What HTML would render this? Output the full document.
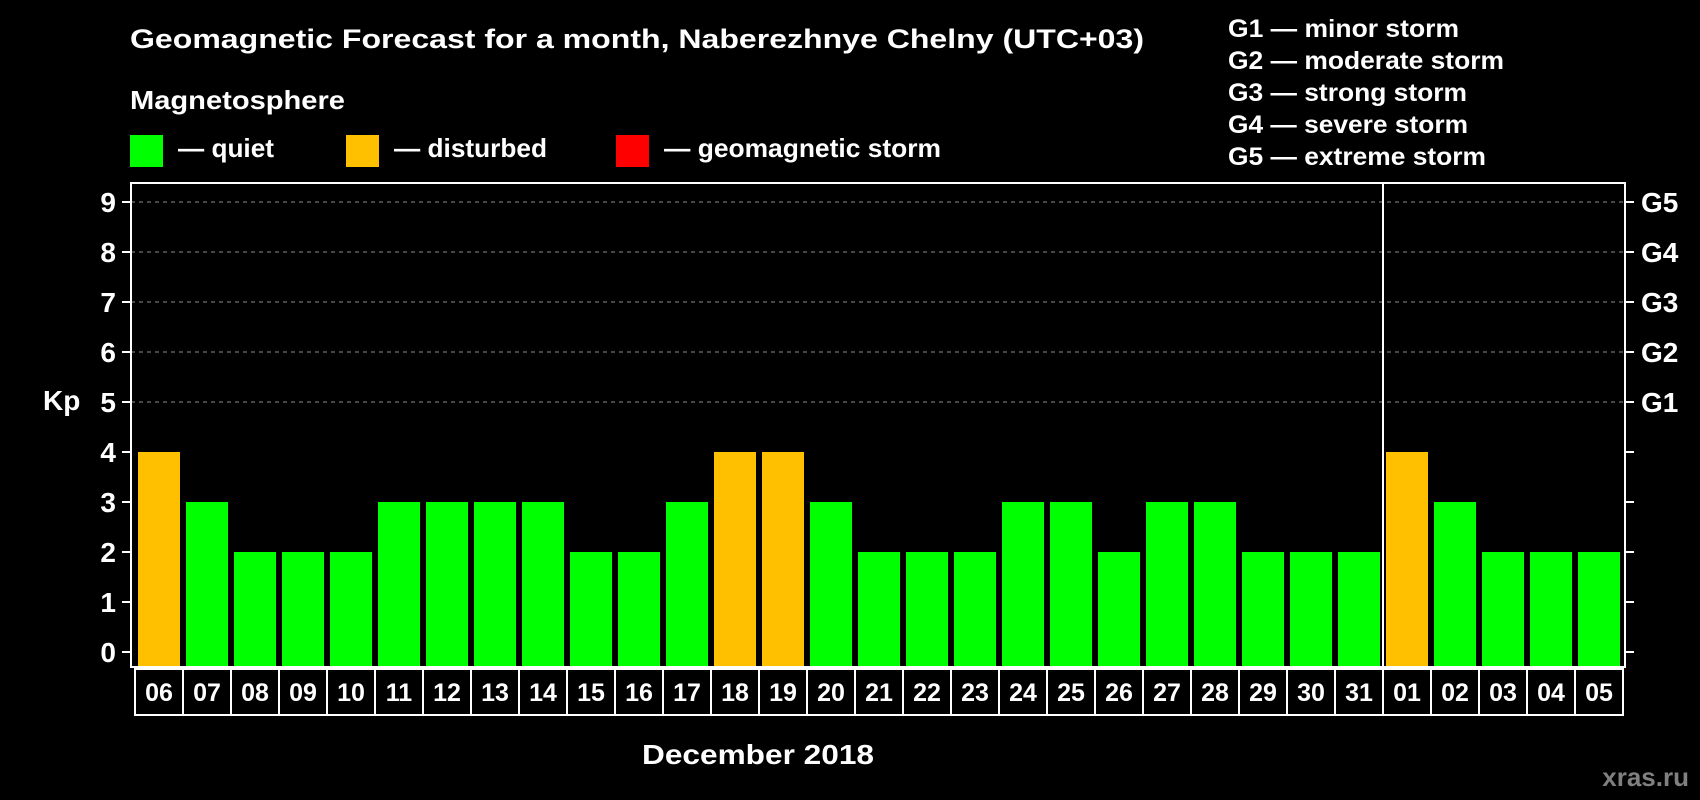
<!DOCTYPE html>
<html><head><meta charset="utf-8"><style>
html,body{margin:0;padding:0;background:#000;}
svg{display:block;font-family:"Liberation Sans",Arial,sans-serif;font-weight:bold;}
</style></head><body>
<svg id="chart" width="1700" height="800" viewBox="0 0 1700 800" xmlns="http://www.w3.org/2000/svg">
<rect x="0" y="0" width="1700" height="800" fill="#000"/>
<text x="130" y="48" fill="#fff" font-size="27" textLength="1014" lengthAdjust="spacingAndGlyphs">Geomagnetic Forecast for a month, Naberezhnye Chelny (UTC+03)</text>
<text x="130" y="109" fill="#fff" font-size="26" textLength="215" lengthAdjust="spacingAndGlyphs">Magnetosphere</text>
<g>
<rect x="130" y="135" width="33" height="32" fill="#00ff00"/>
<text x="178" y="157" fill="#fff" font-size="26" textLength="96" lengthAdjust="spacingAndGlyphs">— quiet</text></g>
<g>
<rect x="346" y="135" width="33" height="32" fill="#ffc000"/>
<text x="394" y="157" fill="#fff" font-size="26" textLength="153" lengthAdjust="spacingAndGlyphs">— disturbed</text></g>
<g>
<rect x="616" y="135" width="33" height="32" fill="#ff0000"/>
<text x="664" y="157" fill="#fff" font-size="26" textLength="277" lengthAdjust="spacingAndGlyphs">— geomagnetic storm</text></g>
<g fill="#fff" font-size="25">
<text x="1228" y="37" textLength="231" lengthAdjust="spacingAndGlyphs">G1 — minor storm</text>
<text x="1228" y="69" textLength="276" lengthAdjust="spacingAndGlyphs">G2 — moderate storm</text>
<text x="1228" y="101" textLength="239" lengthAdjust="spacingAndGlyphs">G3 — strong storm</text>
<text x="1228" y="133" textLength="240" lengthAdjust="spacingAndGlyphs">G4 — severe storm</text>
<text x="1228" y="165" textLength="258" lengthAdjust="spacingAndGlyphs">G5 — extreme storm</text>
</g>
<text x="43" y="410" fill="#fff" font-size="28">Kp</text>
<text x="642" y="764" fill="#fff" font-size="28" textLength="232" lengthAdjust="spacingAndGlyphs">December 2018</text>
<text x="1689" y="786" fill="#808080" font-size="26" text-anchor="end">xras.ru</text>
<g id="plot"></g>
</svg>
<script>
const days = ["06","07","08","09","10","11","12","13","14","15","16","17","18","19","20","21","22","23","24","25","26","27","28","29","30","31","01","02","03","04","05"];
const kpValues = [4,3,2,2,2,3,3,3,3,2,2,3,4,4,3,2,2,2,3,3,2,3,3,2,2,2,4,3,2,2,2];
const yTicks = [0,1,2,3,4,5,6,7,8,9];
const gLabels = ["","","","","","G1","G2","G3","G4","G5"];
const monthBreakIndex = 26;

const NS="http://www.w3.org/2000/svg";
const plot=document.getElementById('plot');
const L=131,R=1625,T=183,B=667,slot0=135,slotW=48;
function y(v){return 652-v*50;}
function x(i){return slot0+i*slotW;}
function mk(tag,attrs){const e=document.createElementNS(NS,tag);for(const k in attrs)e.setAttribute(k,attrs[k]);plot.appendChild(e);return e;}

yTicks.forEach((t,i)=>{
  const yy=y(t);
  if(t>=5){const g=mk('line',{x1:L,x2:R,y1:yy,y2:yy,stroke:'#909090','stroke-width':1,'stroke-dasharray':'4,4'});
    
    }
  const tl=mk('line',{x1:L-9,x2:L,y1:yy,y2:yy,stroke:'#fff','stroke-width':2});
  
  
  const tr=mk('line',{x1:R,x2:R+9,y1:yy,y2:yy,stroke:'#fff','stroke-width':2});
  
  
  const lb=mk('text',{x:116,y:yy+10,fill:'#fff','font-size':28,'text-anchor':'end'});
  lb.textContent=t;
  
  
  if(gLabels[i]){const gl=mk('text',{x:1641,y:yy+10,fill:'#fff','font-size':28});
    gl.textContent=gLabels[i];
    
    }
});

kpValues.forEach((v,i)=>{
  const top=y(v);
  const b=mk('rect',{x:x(i)+3,y:top,width:42,height:B-top,fill:v>=5?'#ff0000':(v>=4?'#ffc000':'#00ff00')});
  
  
  const c=mk('rect',{x:x(i),y:669,width:slotW,height:46,fill:'none',stroke:'#fff','stroke-width':2});
  
  
  const t=mk('text',{x:x(i)+slotW/2,y:701,fill:'#fff','font-size':25,'text-anchor':'middle'});
  t.textContent=days[i];
  
  
});

const sep=mk('line',{x1:x(monthBreakIndex),x2:x(monthBreakIndex),y1:T,y2:B,stroke:'#fff','stroke-width':2});


const fr=mk('rect',{x:L,y:T,width:R-L,height:B-T,fill:'none',stroke:'#fff','stroke-width':2});


</script>
</body></html>
